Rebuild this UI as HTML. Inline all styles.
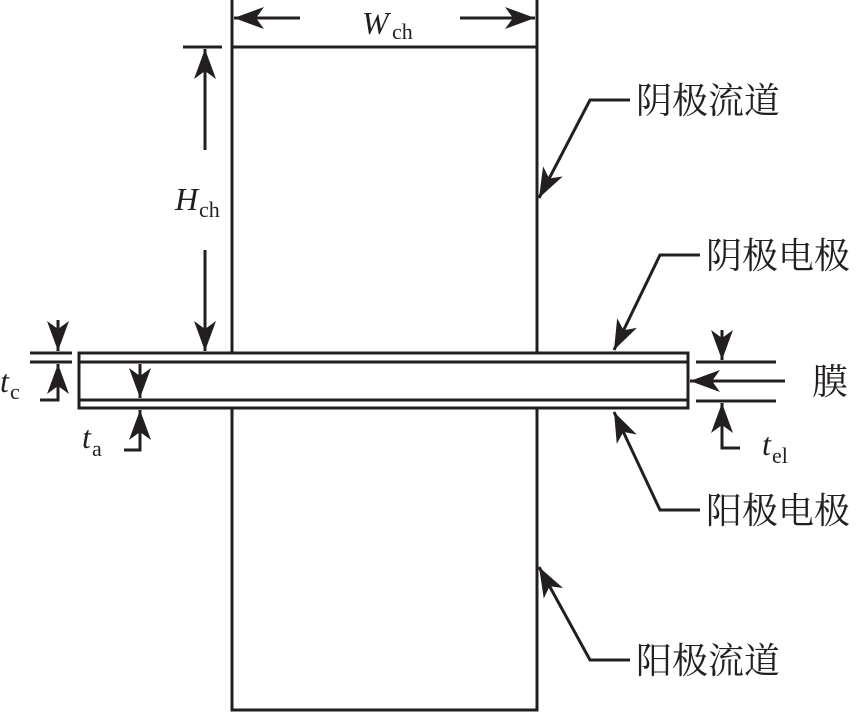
<!DOCTYPE html>
<html><head><meta charset="utf-8"><style>
body{margin:0;background:#fff;width:864px;height:713px;overflow:hidden}
svg{display:block}
text{font-family:"Liberation Serif","Noto Serif CJK SC",serif;fill:#231f20}
.cj{font-family:"Noto Serif CJK SC","Noto Sans CJK SC",serif;font-size:36px}
</style></head><body>
<svg width="864" height="713" viewBox="0 0 864 713" stroke="#231f20" stroke-width="3" fill="none">
<defs><marker id="a" viewBox="0 0 30 22" refX="30" refY="11" markerWidth="30" markerHeight="22" orient="auto-start-reverse" markerUnits="userSpaceOnUse"><path d="M0,0 L30,11 L0,22 L8,11z" fill="#231f20" stroke="none"/></marker></defs>
<path d="M232,47 H537 M232,47 V353 M537,47 V353 M232,408 V710 H537 V408"/>
<rect x="79" y="353" width="609" height="55"/>
<path d="M79,362 H688 M79,400 H688"/>
<path d="M232,0 V47 M537,0 V47"/>
<path d="M300,18 H234" marker-end="url(#a)"/>
<path d="M460,18 H535" marker-end="url(#a)"/>
<text x="362" y="34" font-size="32" font-style="italic" stroke="none">W</text><text x="392" y="39" font-size="22" stroke="none">ch</text>
<path d="M183,47 H222"/>
<path d="M205,150 V49" marker-end="url(#a)"/>
<path d="M205,250 V351" marker-end="url(#a)"/>
<text x="175" y="210" font-size="32" font-style="italic" stroke="none">H</text><text x="199" y="217" font-size="22" stroke="none">ch</text>
<path d="M30,353 H72 M30,362 H72"/>
<path d="M58,320 V351" marker-end="url(#a)"/>
<path d="M40,400 H58 V364" marker-end="url(#a)"/>
<text x="0" y="392" font-size="32" font-style="italic" stroke="none">t</text><text x="10" y="399" font-size="22" stroke="none">c</text>
<path d="M140,364 V398" marker-end="url(#a)"/>
<path d="M124,450 H140 V410" marker-end="url(#a)"/>
<text x="82" y="448" font-size="32" font-style="italic" stroke="none">t</text><text x="92" y="456" font-size="22" stroke="none">a</text>
<path d="M696,362 H776 M696,401 H776"/>
<path d="M785,381 H690" marker-end="url(#a)"/>
<path d="M722,330 V360" marker-end="url(#a)"/>
<path d="M740,448 H722 V403" marker-end="url(#a)"/>
<text x="762" y="455" font-size="32" font-style="italic" stroke="none">t</text><text x="772" y="463" font-size="22" stroke="none">el</text>
<text x="812" y="394" class="cj" stroke="none">膜</text>
<path d="M630,100 H590 L539,198" marker-end="url(#a)"/>
<text x="636" y="113" class="cj" stroke="none">阴极流道</text>
<path d="M700,255 H660 L614,350" marker-end="url(#a)"/>
<text x="706" y="268" class="cj" stroke="none">阴极电极</text>
<path d="M700,510 H660 L614,412" marker-end="url(#a)"/>
<text x="706" y="523" class="cj" stroke="none">阳极电极</text>
<path d="M630,660 H590 L539,567" marker-end="url(#a)"/>
<text x="636" y="673" class="cj" stroke="none">阳极流道</text>
</svg>
</body></html>
